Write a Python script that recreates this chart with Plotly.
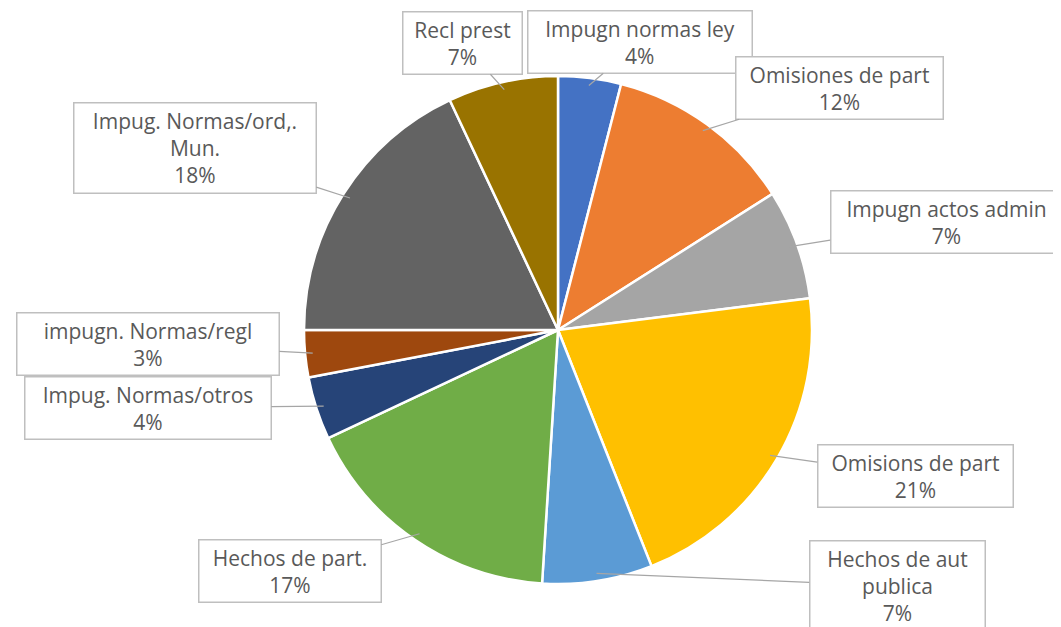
import math
import plotly.graph_objects as go

labels = ["Impugn normas ley", "Omisiones de part", "Impugn actos admin",
          "Omisions de part", "Hechos de aut<br>publica", "Hechos de part.",
          "Impug. Normas/otros", "impugn. Normas/regl",
          "Impug. Normas/ord,.<br>Mun.", "Recl prest"]
values = [4, 12, 7, 21, 7, 17, 4, 3, 18, 7]
colors = ["#4472C4", "#ED7D31", "#A5A5A5", "#FFC000", "#5B9BD5",
          "#70AD47", "#264478", "#9E480E", "#636363", "#997300"]

# layout constants (pixels)
W, H = 1061, 627
CX, CY, R = 550, 322, 254
label_centers = [(632, 34), (831, 80), (938, 214), (907, 468), (889, 578),
                 (282, 563), (140, 400), (140, 336), (187, 140), (454, 35)]
box_widths = [227, 210, 234, 198, 178, 185, 249, 265, 245, 122]

fig = go.Figure(go.Pie(
    labels=labels, values=values, sort=False, direction="clockwise",
    rotation=0, textinfo="none", hoverinfo="label+percent",
    marker=dict(colors=colors, line=dict(color="white", width=2.5)),
    domain=dict(x=[(CX - R) / W, (CX + R) / W], y=[1 - (CY + R) / H, 1 - (CY - R) / H]),
    showlegend=False,
))

total = sum(values)
cum = 0
annotations = []
for lab, v, (lx, ly), bw in zip(labels, values, label_centers, box_widths):
    mid = (cum + v / 2) / total * 2 * math.pi
    cum += v
    tx = CX + R * 0.97 * math.sin(mid)
    ty = CY - R * 0.97 * math.cos(mid)
    pct = round(v / total * 100)
    annotations.append(dict(
        x=tx / W, y=1 - ty / H, xref="paper", yref="paper",
        text=f"{lab}<br>{pct}%", showarrow=True, arrowhead=0, arrowwidth=1.2,
        arrowcolor="#A6A6A6", axref="pixel", ayref="pixel",
        ax=lx - tx, ay=ly - ty, standoff=0,
        font=dict(family="Open Sans, sans-serif", size=21, color="#595959"),
        bgcolor="white", bordercolor="#BFBFBF", borderwidth=1.5, borderpad=3,
        width=bw - 10, align="center",
    ))

fig.update_layout(
    width=W, height=H, margin=dict(l=0, r=0, t=0, b=0),
    paper_bgcolor="white", plot_bgcolor="white",
    annotations=annotations,
)
fig.write_html("out.html")
